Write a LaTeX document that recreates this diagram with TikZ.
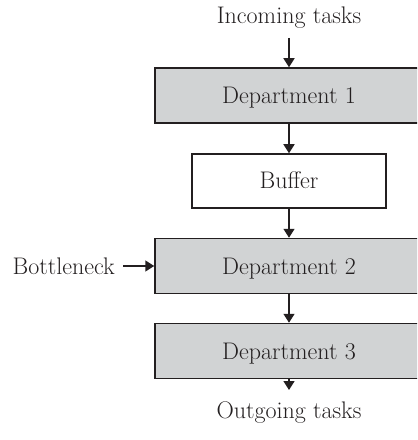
\documentclass[tikz,border=0pt]{standalone}
\usetikzlibrary{arrows.meta}
\definecolor{boxgray}{HTML}{D1D3D4}
\definecolor{ink}{HTML}{231F20}
\begin{document}
\begin{tikzpicture}[x=1bp,y=-1bp,
  every node/.style={font=\fontsize{24bp}{28bp}\selectfont, text=ink,
    text height=16bp, text depth=0bp},
  dept/.style={draw=ink, line width=1.5bp, fill=boxgray,
    minimum width=268bp, minimum height=55bp, inner sep=0pt},
  bufbox/.style={draw=ink, line width=1.5bp, fill=white,
    minimum width=194bp, minimum height=54bp, inner sep=0pt},
  label/.style={inner sep=0pt},
  flow/.style={draw=ink, line width=1.5bp, -{Triangle[length=9bp,width=11bp]}}]
\useasboundingbox (0,0) rectangle (417,440);
\clip (0,0) rectangle (417,440);

% stations of the line
\node[dept]   (d1)  at (289,95.5) {Department 1};
\node[bufbox] (buf) at (289,181)  {Buffer};
\node[dept]   (d2)  at (289,266)  {Department 2};
\node[dept]   (d3)  at (289,351)  {Department 3};

% external labels
\node[label, anchor=south] (in)   at (289,24)  {Incoming tasks};
\node[label, anchor=north] (out)  at (289,402) {Outgoing tasks};
\node[label, anchor=east]  (bott) at (115,266) {Bottleneck};

% flow of tasks
\draw[flow] ([yshift=-14bp]in.south) -- (d1.north);
\draw[flow] (d1.south) -- (buf.north);
\draw[flow] (buf.south) -- (d2.north);
\draw[flow] (d2.south) -- (d3.north);
\draw[flow] (d3.south) -- ([yshift=12bp]out.north);
\draw[flow] ([xshift=8bp]bott.east) -- (d2.west);
\end{tikzpicture}
\end{document}
